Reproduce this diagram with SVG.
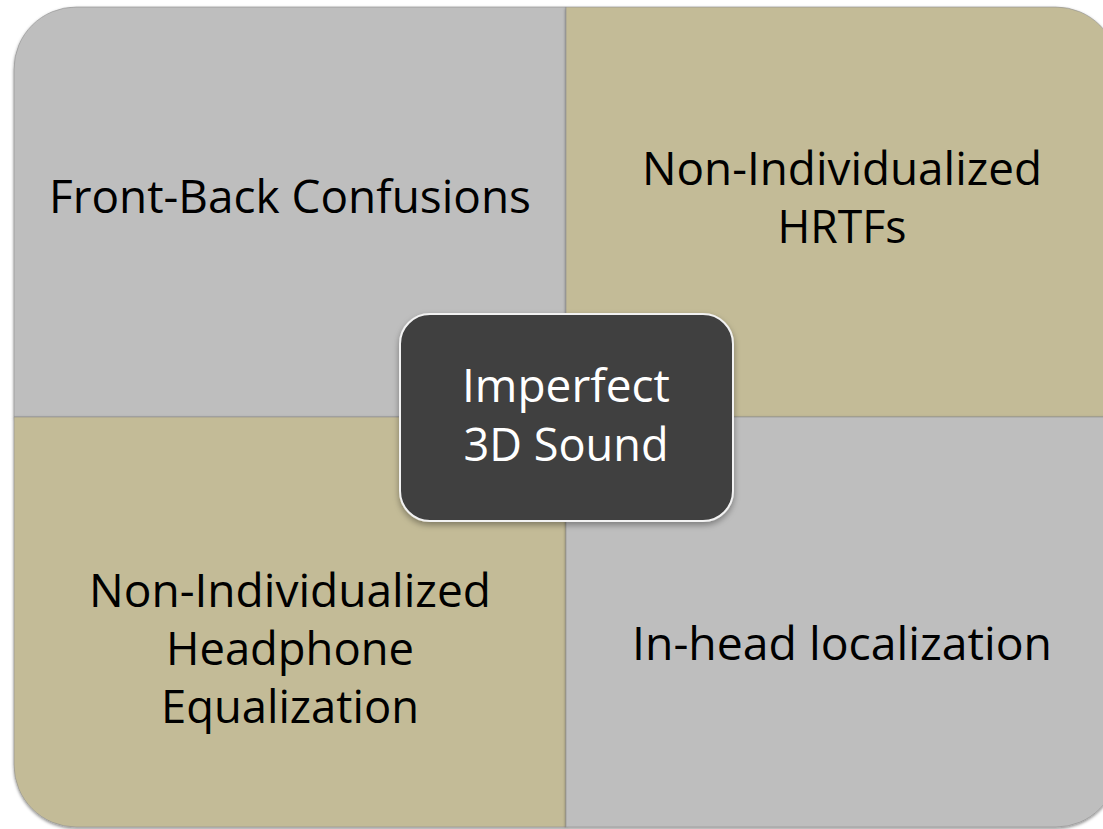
<svg xmlns="http://www.w3.org/2000/svg" width="1103" height="829" viewBox="0 0 1103 829">
  <defs>
    <filter id="soft" x="-5%" y="-5%" width="110%" height="110%">
      <feDropShadow dx="0" dy="1.5" stdDeviation="1.5" flood-color="#000" flood-opacity="0.45"/>
    </filter>
    <filter id="lift" x="-10%" y="-10%" width="120%" height="125%">
      <feDropShadow dx="0" dy="3" stdDeviation="3" flood-color="#000" flood-opacity="0.35"/>
    </filter>
  </defs>
  <style>
    .grey { fill: #bebebe; }
    .tan { fill: #c3bb97; }
    .quad { stroke: #8f8f8f; stroke-width: 0.6; filter: url(#soft); }
    .label { font-family: "Open Sans", "Liberation Sans", sans-serif; font-size: 46px; fill: #000; text-anchor: middle; }
    .core { fill: #404040; stroke: #f2f2f2; stroke-width: 2; filter: url(#lift); }
    .core-label { font-family: "Open Sans", "Liberation Sans", sans-serif; font-size: 46px; fill: #fff; text-anchor: middle; }
  </style>

  <rect width="1103" height="829" fill="#ffffff"/>

  <!-- four quadrants of the matrix -->
  <g id="front-back">
    <path class="quad grey" d="M14,417 V69 A62,62 0 0 1 76,7 H566 V417 Z"/>
    <text class="label" x="290" y="213" textLength="482" lengthAdjust="spacingAndGlyphs">Front-Back Confusions</text>
  </g>
  <g id="hrtfs">
    <path class="quad tan" d="M566,7 H1056 A62,62 0 0 1 1118,69 V417 H566 Z"/>
    <text class="label" x="842" y="185" textLength="400" lengthAdjust="spacingAndGlyphs">Non-Individualized</text>
    <text class="label" x="842" y="243" textLength="129" lengthAdjust="spacingAndGlyphs">HRTFs</text>
  </g>
  <g id="headphone-eq">
    <path class="quad tan" d="M14,417 H566 V827 H76 A62,62 0 0 1 14,765 Z"/>
    <text class="label" x="290" y="607" textLength="402" lengthAdjust="spacingAndGlyphs">Non-Individualized</text>
    <text class="label" x="290" y="665" textLength="248" lengthAdjust="spacingAndGlyphs">Headphone</text>
    <text class="label" x="290" y="723" textLength="258" lengthAdjust="spacingAndGlyphs">Equalization</text>
  </g>
  <g id="in-head">
    <path class="quad grey" d="M566,417 H1118 V765 A62,62 0 0 1 1056,827 H566 Z"/>
    <text class="label" x="842" y="660" textLength="420" lengthAdjust="spacingAndGlyphs">In-head localization</text>
  </g>

  <!-- central topic -->
  <g id="imperfect-3d-sound">
    <rect class="core" x="400" y="314" width="333" height="207" rx="30" ry="30"/>
    <text class="core-label" x="566" y="402" textLength="208" lengthAdjust="spacingAndGlyphs">Imperfect</text>
    <text class="core-label" x="566" y="461" textLength="205" lengthAdjust="spacingAndGlyphs">3D Sound</text>
  </g>
</svg>
